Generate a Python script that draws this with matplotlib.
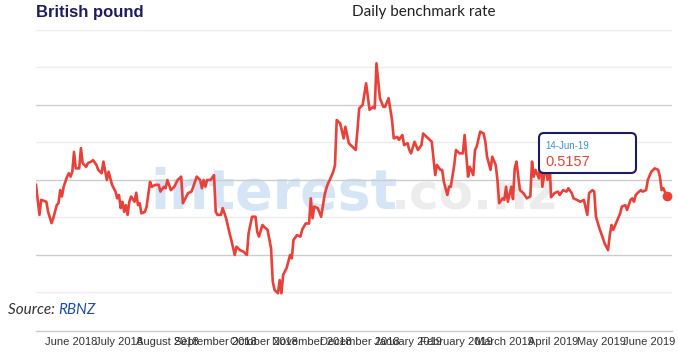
import matplotlib
matplotlib.use("Agg")
import matplotlib.pyplot as plt
import matplotlib.patches as mpatches
from matplotlib.transforms import IdentityTransform
import numpy as np
import pandas as pd

# ---------------- data ----------------
start_date = "2018-06-14"
day_offset = [0, 2, 3, 6, 7, 9, 10, 12, 13, 14, 15, 16, 18, 19, 20, 21, 22, 23, 25, 26,
              27, 29, 30, 32, 33, 35, 36, 38, 39, 41, 42, 44, 46, 47, 48, 49, 50, 51, 52, 53,
              54, 55, 57, 58, 59, 60, 61, 63, 64, 66, 67, 69, 71, 72, 74, 75, 76, 77, 78, 80,
              82, 84, 85, 87, 88, 90, 91, 93, 95, 96, 97, 98, 99, 101, 103, 104, 105, 107, 108, 110,
              112, 113, 115, 116, 118, 120, 122, 123, 125, 127, 128, 129, 131, 132, 134, 136, 137, 138, 140, 141,
              142, 143, 145, 147, 148, 149, 151, 153, 154, 156, 158, 159, 160, 161, 163, 165, 167, 168, 169, 170,
              172, 173, 174, 176, 178, 179, 181, 183, 185, 186, 187, 189, 191, 193, 195, 196, 197, 199, 201, 202,
              204, 206, 207, 209, 210, 212, 213, 215, 216, 217, 219, 221, 223, 224, 227, 229, 231, 232, 234, 235,
              236, 238, 239, 240, 242, 243, 245, 247, 248, 250, 251, 253, 254, 255, 257, 259, 260, 261, 263, 264,
              266, 267, 268, 270, 271, 272, 273, 275, 276, 277, 278, 280, 281, 282, 284, 286, 287, 288, 289, 291,
              292, 293, 295, 296, 297, 298, 300, 302, 303, 305, 307, 308, 310, 311, 313, 315, 317, 319, 320, 322,
              323, 324, 326, 328, 329, 331, 332, 333, 334, 336, 338, 339, 341, 342, 344, 345, 346, 347, 348, 350,
              351, 353, 354, 356, 358, 360, 361, 362, 363, 365]
rate = [0.5187, 0.5107, 0.5147, 0.5142, 0.5115, 0.5085, 0.5098, 0.5133, 0.5138, 0.5173,
        0.5156, 0.5182, 0.5209, 0.5218, 0.5209, 0.5222, 0.5275, 0.5231, 0.5231, 0.5285,
        0.5245, 0.5235, 0.5245, 0.5249, 0.5253, 0.5240, 0.5227, 0.5218, 0.5249, 0.5200,
        0.5222, 0.5187, 0.5169, 0.5151, 0.5160, 0.5125, 0.5142, 0.5115, 0.5133, 0.5107,
        0.5142, 0.5156, 0.5142, 0.5166, 0.5133, 0.5138, 0.5111, 0.5115, 0.5129, 0.5195,
        0.5182, 0.5187, 0.5187, 0.5169, 0.5182, 0.5178, 0.5200, 0.5187, 0.5173, 0.5182,
        0.5200, 0.5209, 0.5138, 0.5156, 0.5165, 0.5169, 0.5182, 0.5209, 0.5200, 0.5178,
        0.5200, 0.5182, 0.5200, 0.5200, 0.5213, 0.5115, 0.5107, 0.5107, 0.5125, 0.5098,
        0.5058, 0.5040, 0.5000, 0.5022, 0.5013, 0.5009, 0.5000, 0.5058, 0.5102, 0.5102,
        0.5062, 0.5049, 0.5080, 0.5075, 0.5067, 0.5018, 0.4929, 0.4907, 0.4898, 0.4933,
        0.4898, 0.4947, 0.4965, 0.5000, 0.4991, 0.5040, 0.5053, 0.5049, 0.5067, 0.5084,
        0.5084, 0.5151, 0.5098, 0.5129, 0.5125, 0.5102, 0.5160, 0.5178, 0.5191, 0.5200,
        0.5222, 0.5240, 0.5360, 0.5351, 0.5311, 0.5342, 0.5298, 0.5289, 0.5280, 0.5333,
        0.5391, 0.5400, 0.5458, 0.5387, 0.5395, 0.5391, 0.5511, 0.5418, 0.5395, 0.5395,
        0.5418, 0.5360, 0.5311, 0.5315, 0.5307, 0.5320, 0.5293, 0.5298, 0.5280, 0.5271,
        0.5302, 0.5280, 0.5293, 0.5324, 0.5311, 0.5302, 0.5213, 0.5240, 0.5227, 0.5227,
        0.5195, 0.5160, 0.5182, 0.5182, 0.5240, 0.5280, 0.5271, 0.5271, 0.5320, 0.5209,
        0.5235, 0.5213, 0.5280, 0.5289, 0.5329, 0.5324, 0.5302, 0.5262, 0.5227, 0.5262,
        0.5240, 0.5200, 0.5138, 0.5151, 0.5147, 0.5182, 0.5142, 0.5182, 0.5149, 0.5231,
        0.5249, 0.5173, 0.5169, 0.5165, 0.5151, 0.5156, 0.5249, 0.5209, 0.5227, 0.5204,
        0.5262, 0.5182, 0.5240, 0.5200, 0.5271, 0.5154, 0.5165, 0.5169, 0.5160, 0.5173,
        0.5169, 0.5178, 0.5165, 0.5151, 0.5147, 0.5142, 0.5147, 0.5107, 0.5165, 0.5173,
        0.5169, 0.5102, 0.5071, 0.5045, 0.5031, 0.5013, 0.5053, 0.5080, 0.5067, 0.5089,
        0.5111, 0.5129, 0.5133, 0.5120, 0.5147, 0.5151, 0.5142, 0.5160, 0.5165, 0.5173,
        0.5169, 0.5173, 0.5200, 0.5222, 0.5231, 0.5227, 0.5209, 0.5173, 0.5178, 0.5157]
month_labels = ["June 2018", "July 2018", "August 2018", "September 2018", "October 2018",
                "November 2018", "December 2018", "January 2019", "February 2019",
                "March 2019", "April 2019", "May 2019", "June 2019"]
grid_values = [0.49, 0.50, 0.51, 0.52, 0.53, 0.54, 0.55, 0.56]
tooltip_date = "14-Jun-19"
tooltip_value = "0.5157"

# ---------------- figure ----------------
W, H = 678, 352
fig = plt.figure(figsize=(W / 100, H / 100), dpi=100)
L, R, T, B = 36, 672, 30, 331
ax = fig.add_axes([L / W, 1 - B / H, (R - L) / W, (B - T) / H])

start = pd.Timestamp(start_date)
dates = start + pd.to_timedelta(day_offset, unit="D")

x0 = start
x1 = start + pd.Timedelta(days=368)
ax.set_xlim(x0, x1)
ax.set_ylim(0.47973, 0.56)

# gridlines
for g in grid_values:
    col = "#cccccc" if round(g * 100) % 2 == 0 and g < 0.555 else "#ececec"
    ax.axhline(g, color=col, lw=1.0, zorder=1)

# watermark
wm_y = (B - 209) / (B - T)
w1 = ax.text((150 - L) / (R - L), wm_y, "interest", transform=ax.transAxes, fontsize=40,
             fontweight="bold", family="DejaVu Sans", color="#d5e5f6",
             ha="left", va="baseline", zorder=0)
fig.canvas.draw()
wb = w1.get_window_extent()
ax.text((wb.x1 - 6 - L) / (R - L), wm_y, ".co.nz", transform=ax.transAxes, fontsize=36,
        fontweight="bold", family="DejaVu Sans", color="#ececec",
        ha="left", va="baseline", zorder=0)

# line
ax.plot(dates, rate, color="#e8413a", lw=1.9, zorder=3, solid_joinstyle="round")
ax.plot(dates[-1], rate[-1], "o", color="#e8413a", ms=6, zorder=4)

# axes styling
for s in ["top", "left", "right"]:
    ax.spines[s].set_visible(False)
ax.spines["bottom"].set_color("#cccccc")
ax.spines["bottom"].set_linewidth(1.0)
ax.set_yticks([])

span = x1 - x0
fracs = (71 + 48.2 * np.arange(len(month_labels)) - L) / (R - L)
tick_pos = [x0 + span * f for f in fracs]
ax.set_xticks(tick_pos)
ax.set_xticklabels(month_labels, fontsize=8, color="#333333", family="Liberation Sans")
ax.tick_params(axis="x", length=0, pad=4)

# titles
fig.text(L / W, 1 - 12 / H, "British pound", fontsize=12, fontweight="bold",
         color="#1c1c5e", family="Liberation Sans", ha="left", va="center")
fig.text(424 / W, 1 - 12 / H, "Daily benchmark rate", fontsize=11,
         color="#222222", family="Lato", ha="center", va="center")

# source
t1 = fig.text(8 / W, 1 - 310 / H, "Source: ", fontsize=11, style="italic",
              color="#333333", family="Lato", ha="left", va="center")
fig.canvas.draw()
bb = t1.get_window_extent()
fig.text(bb.x1 / W, 1 - 310 / H, "RBNZ", fontsize=11, style="italic",
         color="#1f4ea0", family="Lato", ha="left", va="center")

# tooltip
bx0, bx1, by0, by1 = 539, 636, 133, 173
box = mpatches.FancyBboxPatch((bx0, H - by1), bx1 - bx0, by1 - by0,
                              boxstyle="round,pad=0,rounding_size=5",
                              transform=IdentityTransform(), fc="white",
                              ec="#1c1c5e", lw=1.5, zorder=10)
fig.patches.append(box)
fig.text(545 / W, 1 - 146 / H, tooltip_date, fontsize=7, color="#3a8fd6",
         family="Liberation Sans", ha="left", va="center", zorder=11)
fig.text(545 / W, 1 - 162 / H, tooltip_value, fontsize=10.5, color="#e8413a",
         family="Liberation Sans", ha="left", va="center", zorder=11)

fig.savefig("out.png", dpi=100)
